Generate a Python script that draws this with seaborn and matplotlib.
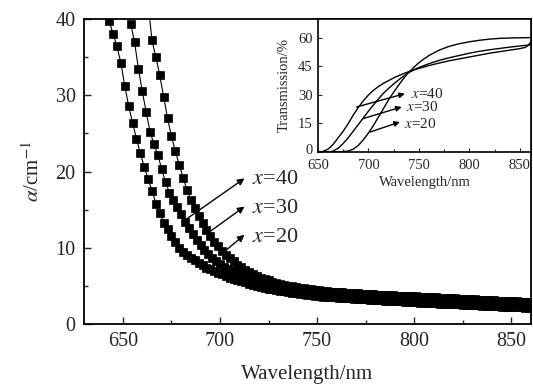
import numpy as np
import pandas as pd
import matplotlib
matplotlib.use("Agg")
import matplotlib.pyplot as plt
from matplotlib.ticker import MultipleLocator
from matplotlib.transforms import ScaledTranslation
import seaborn as sns

# ---------------- data: absorption coefficient (main plot) ----------------
series_labels = ["x=40", "x=30", "x=20"]
wl_start = {"x=40": 643, "x=30": 654, "x=20": 663}
wl_step = 2

alpha_x40 = [39.7, 38.0, 36.4, 34.2, 31.2, 28.6, 26.4, 24.3, 22.4, 20.6,
             19.0, 17.5, 15.8, 14.6, 13.3, 12.4, 11.5, 10.7, 10.0, 9.5,
             9.1, 8.7, 8.4, 8.0, 7.7, 7.4, 7.15, 6.9, 6.7, 6.5,
             6.3, 6.1, 5.9, 5.75, 5.6, 5.45, 5.3, 5.15, 5.0, 4.88,
             4.76, 4.65, 4.55, 4.45, 4.36, 4.27, 4.19, 4.11, 4.03, 3.96,
             3.89, 3.82, 3.76, 3.70, 3.64,
             3.60, 3.56, 3.52, 3.48, 3.44, 3.41, 3.38, 3.35, 3.32, 3.29,
             3.26, 3.23, 3.20, 3.17, 3.14, 3.11, 3.08, 3.05, 3.02, 2.99,
             2.96, 2.93, 2.90, 2.87, 2.84, 2.82, 2.79, 2.77, 2.74, 2.72,
             2.69, 2.67, 2.64, 2.62, 2.59, 2.57, 2.54, 2.52, 2.49, 2.47,
             2.44, 2.42, 2.39, 2.37, 2.34, 2.32, 2.29, 2.27, 2.24, 2.22,
             2.19, 2.17, 2.14, 2.12]

alpha_x30 = [39.4, 37.0, 33.5, 30.5, 27.8, 25.2, 23.6, 22.2, 20.3, 18.6,
             17.2, 16.2, 15.3, 14.4, 13.4, 12.6, 11.8, 11.0, 10.3, 9.7,
             9.2, 8.7, 8.3, 7.9, 7.5, 7.2, 6.9, 6.6, 6.35, 6.1,
             5.9, 5.7, 5.55, 5.4, 5.28, 5.16, 5.05, 4.95, 4.85, 4.76,
             4.67, 4.59, 4.51, 4.43, 4.36, 4.29, 4.22, 4.16, 4.10, 4.05,
             4.00, 3.96, 3.92, 3.88, 3.84, 3.80, 3.77, 3.74, 3.71, 3.68,
             3.65, 3.62, 3.59, 3.56, 3.53, 3.50, 3.47, 3.44, 3.41, 3.39,
             3.36, 3.34, 3.31, 3.29, 3.26, 3.24, 3.21, 3.19, 3.16, 3.14,
             3.11, 3.09, 3.06, 3.04, 3.01, 2.99, 2.96, 2.94, 2.91, 2.89,
             2.86, 2.84, 2.81, 2.79, 2.76, 2.74, 2.71, 2.69, 2.66, 2.64,
             2.61, 2.59, 2.56, 2.54]

alpha_x20 = [42.0, 37.2, 35.0, 32.6, 29.8, 27.0, 24.6, 22.7, 20.9, 19.2,
             17.6, 16.3, 15.2, 14.2, 13.2, 12.3, 11.5, 10.8, 10.2, 9.6,
             9.1, 8.6, 8.2, 7.8, 7.45, 7.1, 6.8, 6.55, 6.3, 6.1,
             5.9, 5.72, 5.55, 5.4, 5.27, 5.15, 5.04, 4.94, 4.85, 4.76,
             4.68, 4.60, 4.53, 4.46, 4.40,
             4.35, 4.30, 4.26, 4.22, 4.18, 4.14, 4.11, 4.08, 4.05, 4.02,
             3.99, 3.96, 3.93, 3.90, 3.87, 3.84, 3.81, 3.78, 3.76, 3.73,
             3.71, 3.68, 3.66, 3.63, 3.61, 3.58, 3.56, 3.53, 3.51, 3.48,
             3.46, 3.43, 3.41, 3.38, 3.36, 3.33, 3.31, 3.28, 3.26, 3.23,
             3.21, 3.18, 3.16, 3.13, 3.11, 3.08, 3.06, 3.03, 3.01, 2.98,
             2.96, 2.93, 2.91, 2.88]

# ---------------- data: transmission (inset) ----------------
tr_wl_x40 = [650, 655, 660, 665, 670, 675, 680, 685, 690, 695, 700, 705, 710, 715, 720,
             725, 730, 735, 740, 745, 750, 760, 770, 780, 790, 800, 810, 820, 830, 840,
             850, 855, 858, 861]
tr_x40 = [0, 0.3, 1.5, 4.0, 7.5, 11.0, 15.0, 19.5, 23.5, 27.0, 30.0, 32.5, 34.5, 36.2, 37.6,
          39.0, 40.2, 41.3, 42.3, 43.2, 44.0, 45.5, 46.8, 48.0, 49.0, 50.0, 51.0, 52.0, 52.8, 53.6,
          54.4, 55.0, 56.0, 58.0]

tr_wl_x30 = [650, 660, 665, 670, 675, 680, 685, 690, 695, 700, 705, 710, 715, 720, 725,
             730, 735, 740, 745, 750, 760, 770, 780, 790, 800, 810, 820, 830, 840, 850, 861]
tr_x30 = [0, 0, 0.5, 2.0, 4.5, 7.5, 11.0, 14.5, 18.0, 21.5, 24.8, 28.0, 31.0, 33.5, 35.8,
          38.0, 40.0, 41.8, 43.2, 44.5, 46.5, 48.2, 49.6, 50.8, 52.0, 53.0, 53.8, 54.5, 55.2, 55.8, 56.4]

tr_wl_x20 = [650, 670, 680, 685, 690, 695, 700, 705, 710, 715, 720, 725, 730, 735, 740,
             745, 750, 755, 760, 770, 780, 790, 800, 810, 820, 830, 840, 850, 861]
tr_x20 = [0, 0, 0.5, 1.5, 3.5, 6.5, 10.0, 14.0, 18.5, 23.0, 27.5, 31.5, 35.3, 38.8, 42.0,
          44.6, 47.0, 49.0, 50.8, 53.6, 55.6, 57.0, 58.0, 58.8, 59.4, 59.8, 60.0, 60.1, 60.2]

# ---------------- build tables ----------------
alpha_map = {"x=40": alpha_x40, "x=30": alpha_x30, "x=20": alpha_x20}
rows = []
for lab in series_labels:
    vals = alpha_map[lab]
    wls = wl_start[lab] + wl_step * np.arange(len(vals))
    for w, a in zip(wls, vals):
        rows.append((lab, w, a))
df_main = pd.DataFrame(rows, columns=["sample", "wl", "alpha"])

tr_map = {"x=40": (tr_wl_x40, tr_x40), "x=30": (tr_wl_x30, tr_x30), "x=20": (tr_wl_x20, tr_x20)}
rows = []
for lab in series_labels:
    for w, t in zip(*tr_map[lab]):
        rows.append((lab, w, t))
df_tr = pd.DataFrame(rows, columns=["sample", "wl", "T"])

# ---------------- style ----------------
sns.set_style("ticks")
plt.rcParams["font.family"] = ["Liberation Serif", "DejaVu Serif"]
plt.rcParams["mathtext.fontset"] = "stix"
plt.rcParams["xtick.direction"] = "in"
plt.rcParams["ytick.direction"] = "in"

fig = plt.figure(figsize=(5.33, 3.85), dpi=100)
ax = fig.add_axes([0.1576, 0.1584, 0.8384, 0.7922])

sns.lineplot(data=df_main, x="wl", y="alpha", hue="sample", palette=["black"] * 3,
             marker="s", markersize=5.2, markeredgecolor="black", markeredgewidth=0.5,
             linewidth=0.8, estimator=None, sort=False, legend=False, ax=ax)

ax.set_xlim(630, 860)
ax.set_ylim(0, 40)
ax.xaxis.set_major_locator(MultipleLocator(50))
ax.xaxis.set_minor_locator(MultipleLocator(25))
ax.yaxis.set_major_locator(MultipleLocator(10))
ax.yaxis.set_minor_locator(MultipleLocator(5))
ax.tick_params(which="major", length=5, width=1.0, labelsize=14.5, pad=6)
ax.tick_params(which="minor", length=3, width=1.0)
ax.tick_params(top=False, right=False)
for s in ax.spines.values():
    s.set_linewidth(1.3)
    s.set_color("black")
ax.set_xlabel("Wavelength/nm", fontsize=15, labelpad=10)
ax.set_ylabel(r"$\alpha$/cm$^{-1}$", fontsize=15, labelpad=8)

# annotations in main plot
main_ann = [("x=40", (681.8, 13.6), (712.6, 19.1), (716.5, 18.9)),
            ("x=30", (694.7, 12.1), (712.6, 15.4), (716.5, 15.2)),
            ("x=20", (703.2, 9.7), (712.6, 11.7), (716.5, 11.4))]
for lab, start, head, tpos in main_ann:
    ax.annotate("", xy=head, xytext=start,
                arrowprops=dict(arrowstyle="-|>", color="black", lw=1.0,
                                mutation_scale=10, shrinkA=0, shrinkB=0))
    ax.text(tpos[0], tpos[1], r"$x$=" + lab.split("=")[1], fontsize=16,
            ha="left", va="center")

# ---------------- inset ----------------
axin = fig.add_axes([0.5966, 0.6052, 0.3996, 0.3455])
axin.set_facecolor("white")
sns.lineplot(data=df_tr, x="wl", y="T", hue="sample", palette=["black"] * 3,
             linewidth=1.0, estimator=None, sort=False, legend=False, ax=axin)
axin.set_xlim(650, 861)
axin.set_ylim(0, 70)
axin.xaxis.set_major_locator(MultipleLocator(50))
axin.xaxis.set_minor_locator(MultipleLocator(25))
axin.set_yticks([0, 15, 30, 45, 60])
axin.tick_params(which="major", length=3, width=0.8, labelsize=10.5)
axin.tick_params(axis="y", pad=4)
axin.tick_params(axis="x", pad=5)
axin.tick_params(which="minor", length=2, width=0.8)
axin.tick_params(top=False, right=False)
for s in axin.spines.values():
    s.set_linewidth(1.2)
    s.set_color("black")
axin.set_xlabel("Wavelength/nm", fontsize=10.5, labelpad=3)
axin.set_ylabel("Transmission/%", fontsize=10.5, labelpad=5)
# nudge the "0" label up slightly so it does not collide with "650"
zero_tick = axin.yaxis.get_major_ticks()[0]
zero_tick.label1.set_transform(zero_tick.label1.get_transform() +
                               ScaledTranslation(0, 2.5 / 72, fig.dpi_scale_trans))

in_ann = [("x=40", (688.3, 23.7), (736.0, 30.7), (742.5, 30.7)),
          ("x=30", (694.9, 17.6), (732.9, 23.7), (737.5, 23.7)),
          ("x=20", (701.5, 10.5), (731.2, 15.8), (735.5, 14.6))]
for lab, start, head, tpos in in_ann:
    axin.annotate("", xy=head, xytext=start,
                  arrowprops=dict(arrowstyle="-|>", color="black", lw=1.0,
                                  mutation_scale=8, shrinkA=0, shrinkB=0))
    axin.text(tpos[0], tpos[1], r"$x$=" + lab.split("=")[1], fontsize=11,
              ha="left", va="center")

fig.savefig("out.png", dpi=100)
